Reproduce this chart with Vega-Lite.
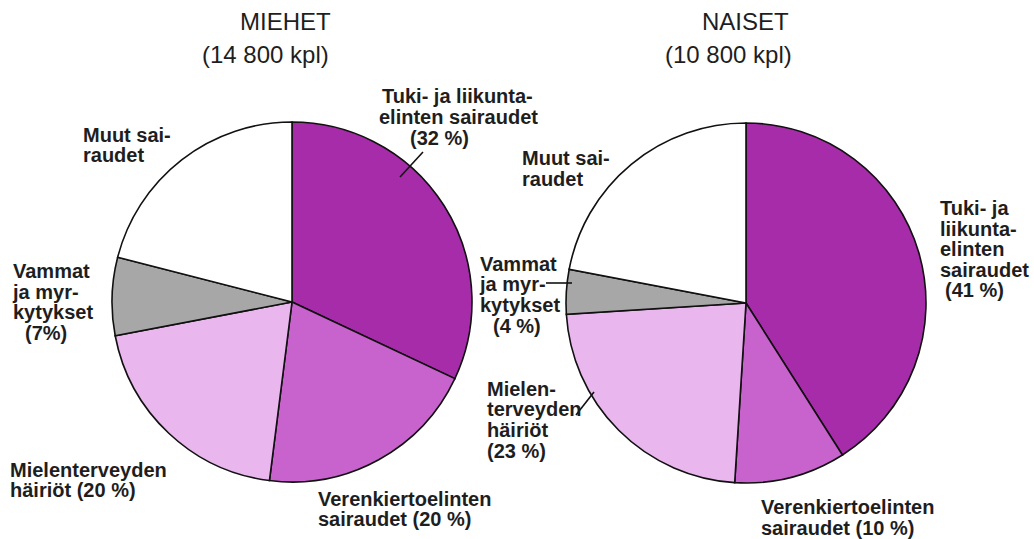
{
  "$schema": "https://vega.github.io/schema/vega-lite/v6.json",
  "width": 1034,
  "height": 539,
  "autosize": {"type": "fit", "contains": "padding"},
  "padding": 0,
  "background": "white",
  "config": {"view": {"stroke": null}},
  "datasets": {
    "pies": [
      {"group": "MIEHET", "cx": 29.2, "cy": 30.2},
      {"group": "NAISET", "cx": 74.6, "cy": 30.3}
    ],
    "slices": [
      {"group": "MIEHET", "order": 1, "category": "Tuki- ja liikuntaelinten sairaudet", "pct": 32},
      {"group": "MIEHET", "order": 2, "category": "Verenkiertoelinten sairaudet", "pct": 20},
      {"group": "MIEHET", "order": 3, "category": "Mielenterveyden häiriöt", "pct": 20},
      {"group": "MIEHET", "order": 4, "category": "Vammat ja myrkytykset", "pct": 7},
      {"group": "MIEHET", "order": 5, "category": "Muut sairaudet", "pct": 21},
      {"group": "NAISET", "order": 1, "category": "Tuki- ja liikuntaelinten sairaudet", "pct": 41},
      {"group": "NAISET", "order": 2, "category": "Verenkiertoelinten sairaudet", "pct": 10},
      {"group": "NAISET", "order": 3, "category": "Mielenterveyden häiriöt", "pct": 23},
      {"group": "NAISET", "order": 4, "category": "Vammat ja myrkytykset", "pct": 4},
      {"group": "NAISET", "order": 5, "category": "Muut sairaudet", "pct": 22}
    ],
    "titles": [
      {"text": "MIEHET", "x": 24.0, "y": 3.0},
      {"text": "(14 800 kpl)", "x": 20.2, "y": 6.25},
      {"text": "NAISET", "x": 70.2, "y": 3.0},
      {"text": "(10 800 kpl)", "x": 66.5, "y": 6.25}
    ],
    "labels": [
      {"text": "Tuki- ja liikunta-", "x": 38.2, "y": 10.3},
      {"text": "elinten sairaudet", "x": 37.9, "y": 12.4},
      {"text": "(32 %)", "x": 41.0, "y": 14.5},
      {"text": "Muut sai-", "x": 8.3, "y": 14.2},
      {"text": "raudet", "x": 8.3, "y": 16.2},
      {"text": "Vammat", "x": 1.3, "y": 27.8},
      {"text": "ja myr-", "x": 1.3, "y": 29.9},
      {"text": "kytykset", "x": 1.3, "y": 31.9},
      {"text": "(7%)", "x": 2.5, "y": 34.0},
      {"text": "Mielenterveyden", "x": 1.0, "y": 47.7},
      {"text": "häiriöt (20 %)", "x": 1.0, "y": 49.7},
      {"text": "Verenkiertoelinten", "x": 31.8, "y": 50.6},
      {"text": "sairaudet (20 %)", "x": 31.8, "y": 52.6},
      {"text": "Muut sai-", "x": 52.2, "y": 16.5},
      {"text": "raudet", "x": 52.2, "y": 18.6},
      {"text": "Tuki- ja", "x": 94.0, "y": 21.5},
      {"text": "liikunta-", "x": 94.0, "y": 23.6},
      {"text": "elinten", "x": 94.0, "y": 25.6},
      {"text": "sairaudet", "x": 94.0, "y": 27.7},
      {"text": "(41 %)", "x": 94.5, "y": 29.7},
      {"text": "Vammat", "x": 48.0, "y": 27.1},
      {"text": "ja myr-", "x": 48.0, "y": 29.1},
      {"text": "kytykset", "x": 48.0, "y": 31.2},
      {"text": "(4 %)", "x": 49.3, "y": 33.3},
      {"text": "Mielen-", "x": 48.7, "y": 39.6},
      {"text": "terveyden", "x": 48.7, "y": 41.6},
      {"text": "häiriöt", "x": 48.7, "y": 43.7},
      {"text": "(23 %)", "x": 48.7, "y": 45.8},
      {"text": "Verenkiertoelinten", "x": 76.1, "y": 51.4},
      {"text": "sairaudet (10 %)", "x": 76.1, "y": 53.5}
    ],
    "leaders": [
      {"x": 42.3, "y": 15.2, "x2": 40.0, "y2": 17.7},
      {"x": 54.6, "y": 28.3, "x2": 57.2, "y2": 28.3},
      {"x": 57.6, "y": 41.5, "x2": 59.4, "y2": 39.2}
    ]
  },
  "layer": [
    {
      "data": {"name": "slices"},
      "transform": [
        {"stack": "pct", "groupby": ["group"], "sort": [{"field": "order", "order": "ascending"}], "as": ["t0", "t1"]},
        {"lookup": "group", "from": {"data": {"name": "pies"}, "key": "group", "fields": ["cx", "cy"]}}
      ],
      "mark": {"type": "arc", "outerRadius": 180, "stroke": "#111111", "strokeWidth": 1.6},
      "encoding": {
        "x": {"field": "cx", "type": "quantitative", "scale": {"domain": [0, 103.4], "nice": false, "zero": false}, "axis": null},
        "y": {"field": "cy", "type": "quantitative", "scale": {"domain": [0, 53.9], "reverse": true, "nice": false, "zero": false}, "axis": null},
        "theta": {"field": "t0", "type": "quantitative", "scale": {"domain": [0, 100]}, "stack": null},
        "theta2": {"field": "t1"},
        "color": {
          "field": "category",
          "type": "nominal",
          "scale": {
            "domain": ["Tuki- ja liikuntaelinten sairaudet", "Verenkiertoelinten sairaudet", "Mielenterveyden häiriöt", "Vammat ja myrkytykset", "Muut sairaudet"],
            "range": ["#a72ca9", "#c862cc", "#e9b6ee", "#a7a7a7", "#ffffff"]
          },
          "legend": null
        }
      }
    },
    {
      "data": {"name": "leaders"},
      "mark": {"type": "rule", "color": "#111111", "strokeWidth": 1.6},
      "encoding": {
        "x": {"field": "x", "type": "quantitative"},
        "y": {"field": "y", "type": "quantitative"},
        "x2": {"field": "x2"},
        "y2": {"field": "y2"}
      }
    },
    {
      "data": {"name": "titles"},
      "mark": {"type": "text", "align": "left", "baseline": "alphabetic", "font": "Liberation Sans", "fontSize": 24, "fontWeight": "normal", "color": "#1e1e1e"},
      "encoding": {
        "x": {"field": "x", "type": "quantitative"},
        "y": {"field": "y", "type": "quantitative"},
        "text": {"field": "text"}
      }
    },
    {
      "data": {"name": "labels"},
      "mark": {"type": "text", "align": "left", "baseline": "alphabetic", "font": "Liberation Sans", "fontSize": 20, "fontWeight": "bold", "color": "#1e1e1e"},
      "encoding": {
        "x": {"field": "x", "type": "quantitative"},
        "y": {"field": "y", "type": "quantitative"},
        "text": {"field": "text"}
      }
    }
  ]
}
